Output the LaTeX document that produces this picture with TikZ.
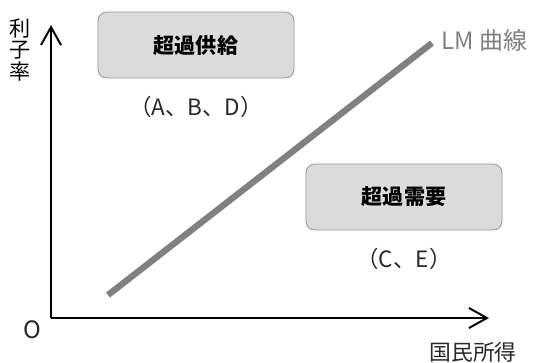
\documentclass[tikz,border=0pt]{standalone}
\usepackage{fontspec}
\setmainfont{Noto Sans CJK JP}
\usetikzlibrary{positioning,arrows.meta}
\definecolor{boxfill}{RGB}{220,220,220}
\definecolor{boxline}{RGB}{150,150,150}
\definecolor{curvec}{RGB}{128,128,128}
\definecolor{textc}{RGB}{40,40,40}
\tikzset{
  region/.style  = {draw=boxline, fill=boxfill, rounded corners=2.2mm, line width=0.6pt,
                    minimum width=4.9cm, minimum height=1.65cm, align=center,
                    font=\fontsize{15pt}{17pt}\selectfont\bfseries},
  members/.style = {font=\fontsize{16pt}{18pt}\selectfont, text=textc, inner sep=1pt},
  axis/.style    = {-{Straight Barb[length=4.5mm, width=5mm, line width=1.4pt]}, line width=1.4pt},
  curve/.style   = {draw=curvec, line width=4.5pt},
  lbl/.style     = {font=\fontsize{15.5pt}{17pt}\selectfont, text=textc, align=center, inner sep=1pt},
}
\begin{document}
\begin{tikzpicture}[x=0.025cm, y=-0.025cm]
\useasboundingbox (0,0) rectangle (535,363);

% axes
\coordinate (orig) at (51,318);
\coordinate (ytip) at (51,25);
\coordinate (xtip) at (489,318);
\draw[axis] (orig) -- (ytip);
\draw[axis] (orig) -- (xtip);
\node[lbl, font=\fontsize{17pt}{18pt}\selectfont] (o) at (32,330) {O};
\node[lbl, text=black, font=\fontsize{15pt}{15.2pt}\selectfont] (rate) at (20,50) {利\\子\\率};
\node[lbl] (income) at (473,352) {国民所得};

% LM curve
\coordinate (lmlo) at (108,295);
\coordinate (lmhi) at (432,43);
\draw[curve] (lmlo) -- (lmhi);
\node[lbl, text=curvec, font=\fontsize{17pt}{18pt}\selectfont, anchor=west] (lm) at (440,40) {LM 曲線};

% excess supply / excess demand regions
\node[region] (supply) at (196,45) {超過供給};
\node[members, below=4mm of supply] (abd) {（A、B、D）};
\node[region] (demand) at (404,197) {超過需要};
\node[members, below=4mm of demand] (ce) {（C、E）};

\end{tikzpicture}
\end{document}
